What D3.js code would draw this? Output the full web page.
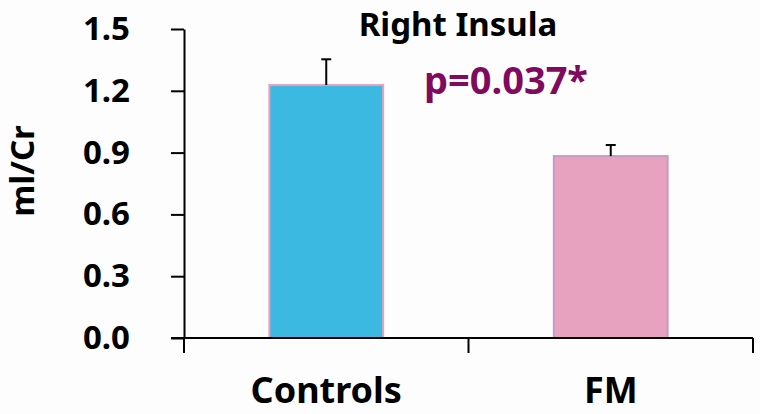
<!DOCTYPE html>
<html>
<head>
<meta charset="utf-8">
<script src="https://cdn.jsdelivr.net/npm/d3@7"></script>
<style>
  body { margin: 0; background: #fdfdfd; }
  text { font-family: "Noto Sans", "Open Sans", sans-serif; font-weight: bold; }
</style>
</head>
<body>
<svg id="chart" width="760" height="414"></svg>
<script>
// data
var groups = ["Controls", "FM"];
var means = [1.228, 0.883];
var errors = [0.125, 0.054];
var yTicks = [0, 0.3, 0.6, 0.9, 1.2, 1.5];
var fills = ["#3bb9e0", "#e6a2be"];
var strokes = ["#ee9fbd", "#c59bc3"];

var svg = d3.select("#chart");

var margin = { left: 184, right: 7, top: 29, bottom: 76 };
var W = 760, H = 414;

var x = d3.scaleBand()
  .domain(groups)
  .range([margin.left, W - margin.right])
  .paddingInner(0.6)
  .paddingOuter(0.3);

var y = d3.scaleLinear()
  .domain([0, 1.5])
  .range([H - margin.bottom, margin.top]);

// boundaries of each category for the x ticks
var step = (W - margin.right - margin.left) / groups.length;
var xBounds = d3.range(groups.length + 1).map(function(i) { return margin.left + i * step; });

// y axis
var yAxis = svg.append("g")
  .attr("transform", "translate(" + margin.left + ",0)")
  .call(d3.axisLeft(y).tickValues(yTicks).tickSize(13).tickSizeOuter(0).tickFormat(d3.format(".1f")));
yAxis.select(".domain").attr("stroke", "#000").attr("stroke-width", 2);
yAxis.selectAll(".tick line").attr("stroke", "#000").attr("stroke-width", 2);
yAxis.selectAll(".tick text")
  .attr("x", -54)
  .attr("fill", "#000")
  .style("font-size", "33px")
  .style("font-family", "Noto Sans")
  .style("font-weight", "bold");

// bars
svg.append("g").selectAll("rect")
  .data(groups)
  .enter().append("rect")
  .attr("x", function(d) { return x(d); })
  .attr("y", function(d, i) { return y(means[i]); })
  .attr("width", x.bandwidth())
  .attr("height", function(d, i) { return y(0) - y(means[i]); })
  .attr("fill", function(d, i) { return fills[i]; })
  .attr("stroke", function(d, i) { return strokes[i]; })
  .attr("stroke-width", 2);

// error bars (upper only)
var eb = svg.append("g").selectAll("g")
  .data(groups)
  .enter().append("g")
  .attr("stroke", "#000")
  .attr("stroke-width", 2);
eb.append("line")
  .attr("x1", function(d) { return x(d) + x.bandwidth() / 2; })
  .attr("x2", function(d) { return x(d) + x.bandwidth() / 2; })
  .attr("y1", function(d, i) { return y(means[i]); })
  .attr("y2", function(d, i) { return y(means[i] + errors[i]); });
eb.append("line")
  .attr("x1", function(d) { return x(d) + x.bandwidth() / 2 - 5; })
  .attr("x2", function(d) { return x(d) + x.bandwidth() / 2 + 5; })
  .attr("y1", function(d, i) { return y(means[i] + errors[i]); })
  .attr("y2", function(d, i) { return y(means[i] + errors[i]); });

// x axis
var xg = svg.append("g").attr("stroke", "#000").attr("stroke-width", 2);
xg.append("line")
  .attr("x1", margin.left - 13).attr("x2", xBounds[xBounds.length - 1])
  .attr("y1", y(0)).attr("y2", y(0));
xg.selectAll("line.tk")
  .data(xBounds)
  .enter().append("line")
  .attr("class", "tk")
  .attr("x1", function(d) { return d; }).attr("x2", function(d) { return d; })
  .attr("y1", y(0)).attr("y2", y(0) + 15);

svg.append("g").selectAll("text")
  .data(groups)
  .enter().append("text")
  .attr("x", function(d) { return x(d) + x.bandwidth() / 2; })
  .attr("y", 403)
  .attr("text-anchor", "middle")
  .style("font-size", "36px")
  .text(function(d) { return d; });

// title
svg.append("text")
  .attr("x", 458).attr("y", 36)
  .attr("text-anchor", "middle")
  .style("font-size", "33px")
  .text("Right Insula");

// p value
svg.append("text")
  .attr("x", 424).attr("y", 94)
  .attr("fill", "#7f0a5f")
  .style("font-size", "38px")
  .text("p=0.037*");

// y title
svg.append("text")
  .attr("transform", "translate(34,171) rotate(-90)")
  .attr("text-anchor", "middle")
  .style("font-size", "33px")
  .text("ml/Cr");
</script>
</body>
</html>
